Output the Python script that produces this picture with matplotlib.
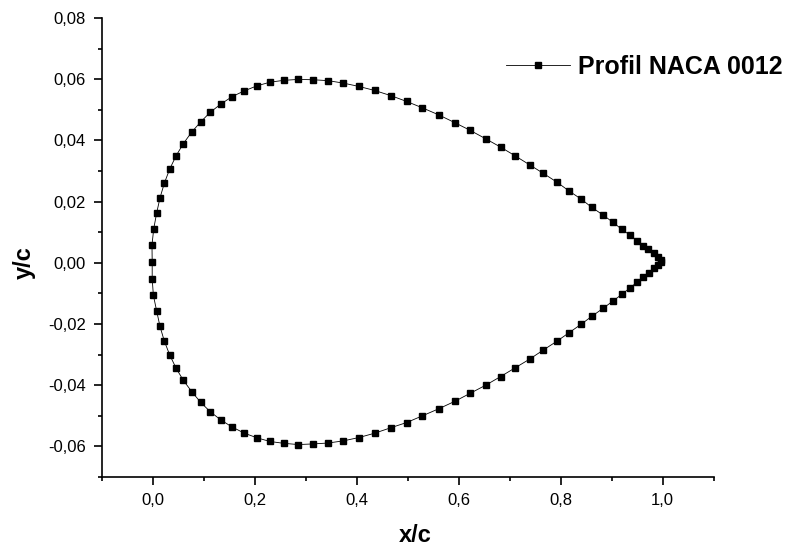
import matplotlib
matplotlib.use("Agg")
import matplotlib.pyplot as plt
from matplotlib.ticker import MultipleLocator, FuncFormatter

plt.rcParams['font.family'] = ['Liberation Sans', 'DejaVu Sans']

# Upper surface, leading edge -> trailing edge
upper_x = [-0.001, -0.0014, 0.002, 0.0078, 0.0143, 0.0228, 0.0333, 0.0457, 0.060, 0.0765,
           0.094, 0.113, 0.134, 0.156, 0.180, 0.2045, 0.230, 0.257, 0.2856, 0.3137,
           0.3437, 0.3737, 0.4045, 0.435, 0.467, 0.498, 0.529, 0.561, 0.592, 0.622,
           0.653, 0.682, 0.710, 0.739, 0.766, 0.792, 0.816, 0.840, 0.861, 0.883,
           0.9026, 0.920, 0.936, 0.950, 0.962, 0.972, 0.982, 0.990, 0.997]
upper_y = [0.0003, 0.0058, 0.0111, 0.0163, 0.0212, 0.0260, 0.0306, 0.0349, 0.0389, 0.0427,
           0.0460, 0.0492, 0.0519, 0.0543, 0.0562, 0.0578, 0.0590, 0.0596, 0.0599, 0.0598,
           0.0595, 0.0587, 0.0576, 0.0563, 0.0546, 0.0527, 0.0506, 0.0483, 0.0458, 0.0433,
           0.0405, 0.0378, 0.0350, 0.0320, 0.0292, 0.0264, 0.0235, 0.0208, 0.0181, 0.0156,
           0.0132, 0.0109, 0.0090, 0.0072, 0.0055, 0.0045, 0.0031, 0.0019, 0.0010]

# Lower surface, leading edge -> trailing edge
lower_x = [-0.001, 0.0013, 0.0078, 0.0143, 0.0228, 0.0333, 0.0457, 0.060, 0.0765, 0.094,
           0.113, 0.134, 0.156, 0.180, 0.2045, 0.230, 0.257, 0.2856, 0.3137, 0.3437,
           0.3737, 0.4045, 0.435, 0.467, 0.498, 0.529, 0.561, 0.592, 0.622, 0.653,
           0.682, 0.710, 0.739, 0.766, 0.792, 0.816, 0.840, 0.861, 0.883, 0.9025,
           0.920, 0.936, 0.950, 0.962, 0.9725, 0.982, 0.990, 0.9967]
lower_y = [-0.0052, -0.0106, -0.0158, -0.0208, -0.0256, -0.0301, -0.0344, -0.0384, -0.0421, -0.0456,
           -0.0487, -0.0514, -0.0537, -0.0557, -0.0572, -0.0584, -0.0590, -0.0594, -0.0592, -0.0589,
           -0.0582, -0.0571, -0.0557, -0.0539, -0.0522, -0.0500, -0.0477, -0.0453, -0.0427, -0.0400,
           -0.0372, -0.0344, -0.0315, -0.0285, -0.0257, -0.0229, -0.0201, -0.0175, -0.0149, -0.0125,
           -0.0103, -0.0082, -0.0063, -0.0046, -0.0033, -0.0018, -0.0007, 0.0003]

series_label = "Profil NACA 0012"
x_label = "x/c"
y_label = "y/c"

xs = upper_x[::-1] + lower_x
ys = upper_y[::-1] + lower_y

W, H = 786, 547
L, R, T, B = 101.7, 713.7, 17.9, 477.0
fig = plt.figure(figsize=(W/100, H/100), dpi=100)
ax = fig.add_axes([L/W, 1-B/H, (R-L)/W, (B-T)/H])

ax.plot(xs, ys, color='black', lw=0.6, marker='s', markersize=4.8,
        markerfacecolor='black', markeredgecolor='black', label=series_label)

ax.set_xlim(-0.1, 1.1)
ax.set_ylim(-0.07, 0.08)
ax.spines['top'].set_visible(False)
ax.spines['right'].set_visible(False)
for s in ('left', 'bottom'):
    ax.spines[s].set_linewidth(1.2)

ax.xaxis.set_major_locator(MultipleLocator(0.2))
ax.xaxis.set_minor_locator(MultipleLocator(0.1))
ax.yaxis.set_major_locator(MultipleLocator(0.02))
ax.yaxis.set_minor_locator(MultipleLocator(0.01))
ax.xaxis.set_major_formatter(FuncFormatter(lambda v, p: f"{v:.1f}".replace('.', ',')))
ax.yaxis.set_major_formatter(FuncFormatter(lambda v, p: f"{v:.2f}".replace('.', ',')))
ax.tick_params(which='major', direction='out', length=5.5, width=1.2, labelsize=12, pad=6)
ax.tick_params(which='minor', direction='out', length=3, width=1.2)

ax.set_xlabel(x_label, fontsize=17, fontweight='bold', va='center')
ax.set_ylabel(y_label, fontsize=17, fontweight='bold', va='center')
ax.xaxis.set_label_coords((415-L)/(R-L), -(535-B)/(B-T))
ax.yaxis.set_label_coords(-(L-24)/(R-L), (B-262.7)/(B-T))

ax.legend(loc='center left', bbox_to_anchor=(506/W, 1-67/H), bbox_transform=fig.transFigure,
          frameon=False, prop={'size': 18, 'weight': 'bold'}, handlelength=2.56,
          handletextpad=0.32, borderpad=0, borderaxespad=0, numpoints=1)

fig.savefig('out.png', dpi=100)
